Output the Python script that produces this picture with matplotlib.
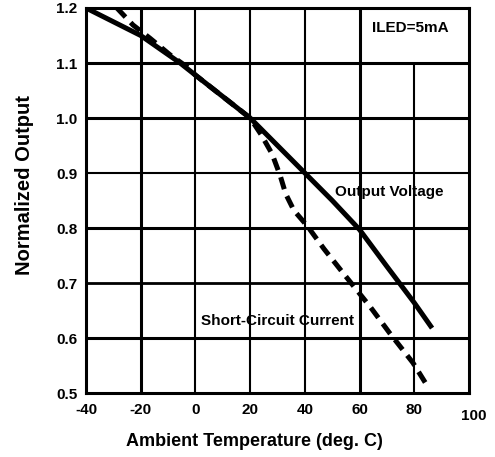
import matplotlib
matplotlib.use("Agg")
import matplotlib.pyplot as plt
from matplotlib.transforms import ScaledTranslation

plt.rcParams['font.family'] = ['Liberation Sans', 'DejaVu Sans']
plt.rcParams['font.weight'] = 'bold'

# data
temp_voltage = [-40, -30, -20, -5.6, 0, 20, 30, 40, 50, 60, 70, 80, 86.5]
output_voltage = [1.20, 1.175, 1.15, 1.10, 1.078, 1.00, 0.95, 0.90, 0.85, 0.797, 0.73, 0.664, 0.618]

temp_current = [-28.7, -22.8, -16.6, -9.3, -3.1, 0, 20, 24, 28, 31, 33, 36,
                41, 47, 54, 59, 64, 71, 79.5, 85.0]
short_circuit = [1.20, 1.169, 1.145, 1.115, 1.093, 1.078, 1.00, 0.97, 0.935, 0.895, 0.862, 0.832,
                 0.803, 0.762, 0.718, 0.687, 0.656, 0.609, 0.555, 0.511]

x_ticks = [-40, -20, 0, 20, 40, 60, 80, 100]
y_ticks = [0.5, 0.6, 0.7, 0.8, 0.9, 1.0, 1.1, 1.2]

fig = plt.figure(figsize=(4.95, 4.57), dpi=100)
ax = fig.add_axes([0.1737, 0.140, 0.7738, 0.8425])
ax.set_xlim(-40, 100)
ax.set_ylim(0.5, 1.2)

# grid drawn by hand so the 80 line can stop under the ILED box
thick_v = {-20: 2.2, 0: 1.5, 20: 1.5, 40: 1.5, 60: 2.2, 80: 1.5}
for xv, lw in thick_v.items():
    top = 1.1 if xv == 80 else 1.2
    ax.plot([xv, xv], [0.5, top], color='black', lw=lw, solid_capstyle='butt', zorder=1)
thick_h = {0.6: 2.2, 0.7: 2.0, 0.8: 2.2, 0.9: 1.5, 1.0: 2.2, 1.1: 2.2}
for yv, lw in thick_h.items():
    ax.axhline(yv, color='black', lw=lw, zorder=1)

ax.plot(temp_voltage, output_voltage, color='black', lw=3.6, solid_capstyle='butt', zorder=3)
ax.plot(temp_current, short_circuit, color='black', lw=3.6, dashes=(2.5, 1.5), zorder=3)

for s in ax.spines.values():
    s.set_linewidth(2.2)

ax.set_xticks(x_ticks)
ax.set_yticks(y_ticks)
ax.set_xticklabels([str(v) for v in x_ticks])
ax.set_yticklabels(['%.1f' % v for v in y_ticks])
ax.tick_params(axis='x', length=0, labelsize=11, pad=7)
ax.tick_params(axis='y', length=0, labelsize=11, pad=6)
for lab in ax.get_xticklabels() + ax.get_yticklabels():
    lab.set_fontweight('bold')
# the "100" label sits a little right and low in the original
last = ax.get_xticklabels()[-1]
last.set_transform(last.get_transform() + ScaledTranslation(0.05, -0.06, fig.dpi_scale_trans))

ax.set_xlabel('Ambient Temperature (deg. C)', fontsize=13, fontweight='bold')
ax.xaxis.set_label_coords(0.439, -0.105)
ax.set_ylabel('Normalized Output', fontsize=14.5, fontweight='bold')
ax.yaxis.set_label_coords(-0.135, 0.54)

ax.text(78.4, 1.164, 'ILED=5mA', fontsize=11, fontweight='bold', ha='center', va='center')
ax.text(70.7, 0.865, 'Output Voltage', fontsize=11, fontweight='bold', ha='center', va='center')
ax.text(30, 0.631, 'Short-Circuit Current', fontsize=11, fontweight='bold', ha='center', va='center')

fig.savefig('out.png', dpi=100)
